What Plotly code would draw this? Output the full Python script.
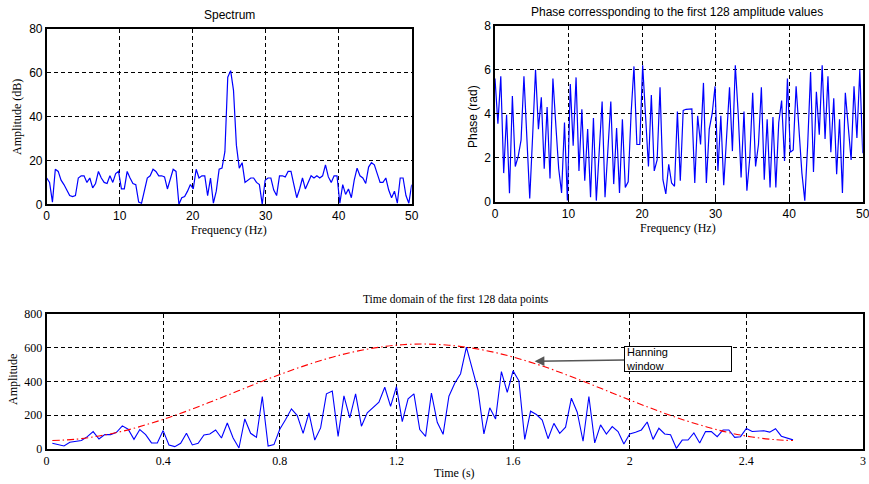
import numpy as np
import plotly.graph_objects as go

# ---------------- data ----------------
spectrum_db = [12, 10, 1, 16, 15, 11, 9, 6.5, 4, 3.5, 4, 12, 13, 13, 10, 12, 7.5, 9.5, 15, 12,
               10, 9.5, 13, 10, 14, 15, 7, 7, 15, 12, 9.5, 9, 1, 0.5, 6, 12, 13, 16, 15, 13,
               13, 12.5, 7, 12, 16, 15, 0, 3, 3.5, 6, 9, 7, 16, 12, 13, 13, 4, 12, 0.5, 6,
               16, 16.5, 24, 58, 61, 52, 27, 16.5, 19, 10, 11, 12, 12, 10, 9, 0, 11, 12, 12, 6.5,
               4, 13, 13, 12.5, 15, 15, 9, 3, 7, 12, 7, 10, 13, 12, 13, 12, 13, 18, 12.5, 10,
               13, 13, 0.5, 9, 4.5, 7, 3, 11, 16.5, 13, 12, 9.5, 17, 19, 18, 14, 10, 10, 12, 6.5,
               3, 6, 0.5, 12, 12, 4, 0.5, 9]

phase_rad = [5.6, 3.55, 5.7, 1.3, 3.95, 0.38, 4.8, 1.6, 2.05, 2.8,
             5.7, 3.0, 0.15, 3.0, 6.0, 3.3, 4.75, 1.5, 4.3, 1.05,
             5.6, 3.5, 1.5, 0.4, 3.6, 0.05, 5.35, 2.55, 5.65, 1.4,
             4.2, 0.95, 3.3, 0.2, 3.8, 0.05, 2.2, 4.55, 0.2, 2.3,
             4.55, 0.8, 3.35, 0.4, 3.75, 0.65, 0.9, 4.0, 6.15, 2.6,
             2.6, 6.2, 3.9, 1.6, 4.85, 1.4, 1.9, 5.2, 1.0, 0.35,
             1.7, 0.85, 0.7, 4.1, 0.95, 4.15, 4.2, 4.2, 4.22, 0.85,
             3.9, 2.6, 5.4, 0.85, 3.3, 4.0, 5.25, 1.4, 3.9, 0.75,
             3.1, 5.2, 2.3, 6.2, 4.0, 1.1, 4.1, 0.5, 2.0, 4.95,
             1.6, 2.6, 5.2, 1.0, 3.75, 0.65, 3.85, 0.65, 3.6, 4.6,
             1.85, 5.6, 2.25, 2.35, 5.25, 3.4, 1.3, 0.05, 2.6, 5.9,
             1.35, 5.0, 3.05, 6.2, 2.85, 5.7, 2.25, 4.7, 1.25, 3.75,
             0.4, 4.95, 3.5, 1.9, 5.25, 2.9, 6.0, 2.2]

signal_amp = [34, 26, 18, 40, 44, 50, 73, 103, 59, 85, 85, 99, 137, 117, 57, 115, 85, 36, 36, 109,
              24, 14, 34, 93, 24, 34, 83, 89, 113, 65, 154, 65, 6, 178, 93, 69, 311, 18, 26, 117,
              175, 238, 198, 93, 214, 53, 125, 327, 343, 75, 315, 184, 327, 135, 214, 244, 277, 366, 253, 370,
              162, 297, 327, 115, 75, 331, 158, 87, 313, 390, 446, 604, 475, 347, 89, 244, 178, 459, 335, 463,
              404, 57, 224, 204, 172, 61, 152, 93, 129, 301, 218, 46, 311, 36, 143, 89, 133, 103, 30, 89,
              99, 113, 160, 57, 123, 89, 85, 4, 53, 53, 95, 36, 103, 103, 73, 113, 113, 69, 73, 122,
              104, 108, 108, 100, 120, 76, 66, 54]

sample_dt = 0.02
window_samples = [1, 5, 9, 13, 17, 21, 25, 29, 33, 37, 41, 45, 49, 53, 57, 61, 65, 69, 73, 77,
                  81, 85, 89, 93, 97, 101, 105, 109, 113, 117, 121, 125, 128]
window_amp = [50, 58, 77, 105, 143, 187, 237, 291, 346, 402, 454, 502, 544, 578, 603, 618, 622, 615,
              598, 571, 535, 492, 442, 388, 332, 277, 224, 175, 133, 97, 71, 55, 50]

time_ticks = [0, 0.4, 0.8, 1.2, 1.6, 2.0, 2.4, 2.8]
time_tick_text = ["0", "0.4", "0.8", "1.2", "1.6", "2", "2.4", "3"]

spectrum_freq = np.linspace(0, 50, len(spectrum_db))
phase_freq = np.linspace(0, 50, len(phase_rad))
signal_time = np.arange(1, len(signal_amp) + 1) * sample_dt
window_time = np.array(window_samples) * sample_dt

# ---------------- figure ----------------
W, H = 869, 484
SANS = "Liberation Sans, Arial, sans-serif"
SERIF = "Liberation Serif, Times New Roman, serif"
BLUE = "#0000ff"
GRID = "4px,3px"


def px_x(p):
    return p / W


def px_y(p):
    return (H - p) / H


fig = go.Figure()
fig.add_trace(go.Scatter(x=spectrum_freq, y=spectrum_db, mode="lines",
                         line=dict(color=BLUE, width=1.2), xaxis="x", yaxis="y"))
fig.add_trace(go.Scatter(x=phase_freq, y=phase_rad, mode="lines",
                         line=dict(color=BLUE, width=1.2), xaxis="x2", yaxis="y2"))
fig.add_trace(go.Scatter(x=signal_time, y=signal_amp, mode="lines",
                         line=dict(color=BLUE, width=1.1), xaxis="x3", yaxis="y3"))
fig.add_trace(go.Scatter(x=window_time, y=window_amp, mode="lines", line_shape="spline",
                         line=dict(color="#ff0000", width=1.1, dash="7px,3px,1.5px,3px"),
                         xaxis="x3", yaxis="y3"))


def axis(domain, rng, tickvals, font, anchor, ticktext=None):
    d = dict(domain=domain, range=rng, tickvals=tickvals, anchor=anchor,
             showline=True, linecolor="black", linewidth=1.5, mirror=True,
             ticks="inside", ticklen=4, tickcolor="black", tickwidth=1,
             showgrid=True, gridcolor="black", gridwidth=1, griddash=GRID,
             zeroline=False, tickfont=font, fixedrange=True, automargin=False,
             ticklabeloverflow="allow")
    if ticktext is not None:
        d["ticktext"] = ticktext
    return d


f_sans = dict(family=SANS, size=12, color="black")
f_serif = dict(family=SERIF, size=12, color="black")

fig.update_layout(
    width=W, height=H, autosize=False,
    margin=dict(l=0, r=0, t=0, b=0, pad=0),
    paper_bgcolor="white", plot_bgcolor="white", showlegend=False,
    xaxis=axis([px_x(46.7), px_x(411.7)], [0, 50], [0, 10, 20, 30, 40, 50], f_sans, "y"),
    yaxis=axis([px_y(204.3), px_y(29)], [0, 80], [0, 20, 40, 60, 80], f_sans, "x"),
    xaxis2=axis([px_x(495), px_x(862.7)], [0, 50], [0, 10, 20, 30, 40, 50], f_sans, "y2"),
    yaxis2=axis([px_y(201.7), px_y(25.7)], [0, 8], [0, 2, 4, 6, 8], f_sans, "x2"),
    xaxis3=axis([px_x(46.5), px_x(863)], [0, 2.8], time_ticks, f_serif, "y3", time_tick_text),
    yaxis3=axis([px_y(449), px_y(314)], [0, 800], [0, 200, 400, 600, 800], f_serif, "x3"),
)


def label(text, x, y, font, angle=0):
    fig.add_annotation(text=text, x=px_x(x), y=px_y(y), xref="paper", yref="paper",
                       xanchor="center", yanchor="middle", showarrow=False,
                       font=font, textangle=angle)


label("Spectrum", 229, 15, dict(family=SANS, size=12, color="black"))
label("Phase corressponding to the first 128 amplitude values", 677, 12,
      dict(family=SANS, size=12, color="black"))
label("Frequency (Hz)", 229, 230, dict(family=SERIF, size=12, color="black"))
label("Frequency (Hz)", 678, 228, dict(family=SERIF, size=12, color="black"))
label("Amplitude (dB)", 17, 117, dict(family=SERIF, size=12, color="black"), -90)
label("Phase (rad)", 473, 117, dict(family=SANS, size=12, color="black"), -90)
label("Time domain of the first 128 data points", 456, 300, dict(family=SERIF, size=11.5, color="black"))
label("Amplitude", 13, 380, dict(family=SERIF, size=12, color="black"), -90)
label("Time (s)", 454, 473, dict(family=SERIF, size=12, color="black"))

fig.add_annotation(text="Hanning<br>window", x=1.674, y=520, xref="x3", yref="y3",
                   ax=143, ay=-2, showarrow=True, arrowhead=2, arrowsize=1.3,
                   arrowwidth=1.5, arrowcolor="#555555", align="left",
                   width=104, height=22, borderpad=1, bordercolor="black", borderwidth=1,
                   bgcolor="white", font=dict(family=SANS, size=11, color="black"))

fig.write_html("out.html", config={"displayModeBar": False},
               post_script="document.body.style.margin='0';")
